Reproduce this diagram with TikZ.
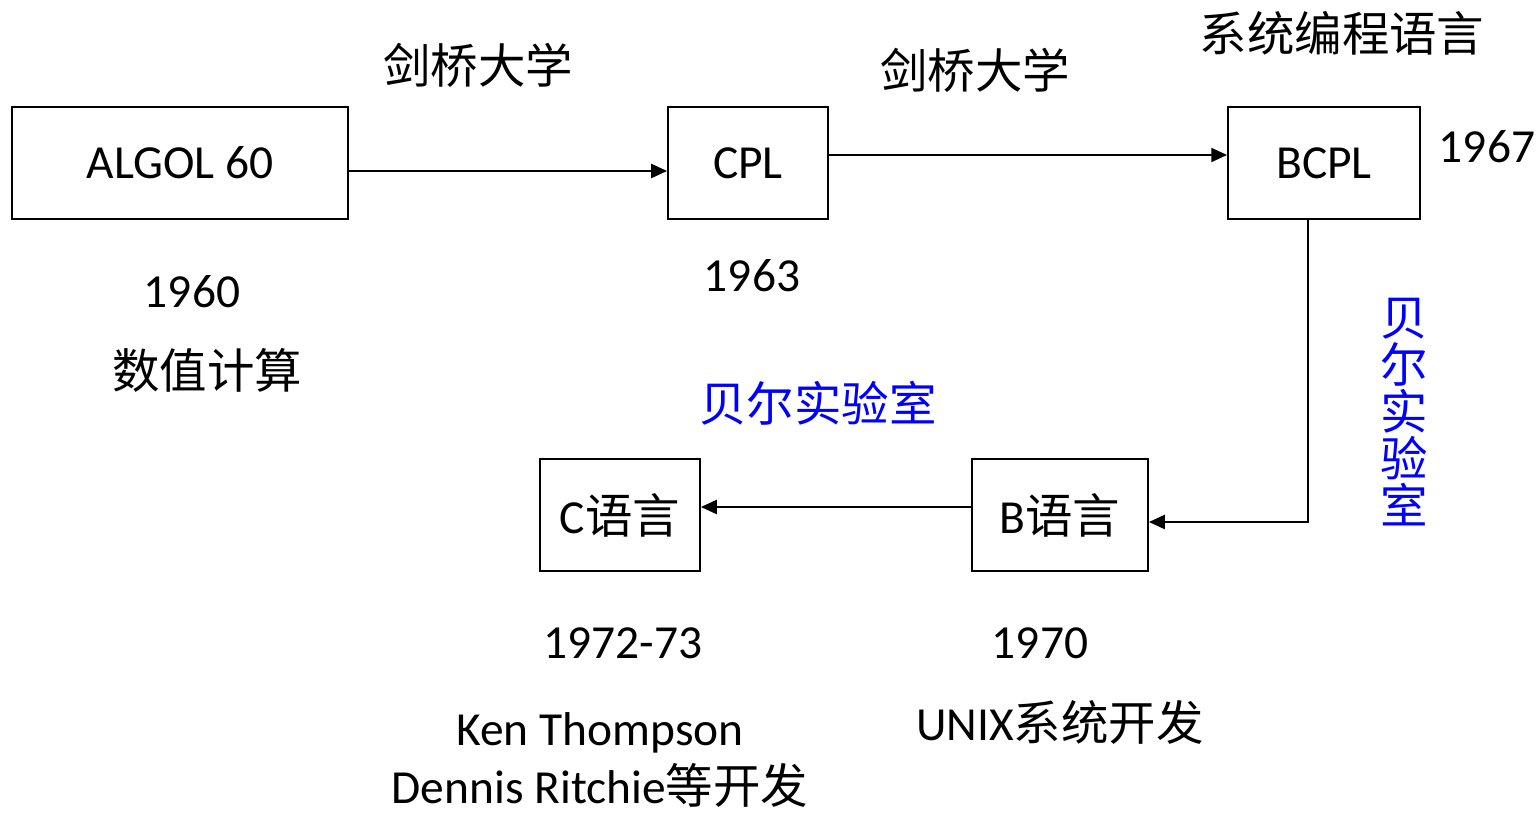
\documentclass[tikz,border=0pt]{standalone}
\usepackage{fontspec}
\setmainfont{Carlito}
\newfontfamily\cjk{Noto Sans CJK SC}
\usetikzlibrary{arrows.meta,positioning}

\newcommand{\zh}[1]{{\cjk #1}}
\definecolor{labblue}{RGB}{0,0,255}

\tikzset{
  langbox/.style={draw, line width=1.1pt, minimum height=2.24cm, inner sep=0pt},
  lab/.style={inner sep=0pt, font=\fontsize{27}{33}\selectfont},
  flow/.style={line width=1.1pt, -{Triangle[length=9pt,width=8pt]}}
}

\begin{document}
\begin{tikzpicture}[x=0.02cm, y=-0.02cm]
\useasboundingbox (0,0) rectangle (1540,813);

% boxes
\node[langbox, lab, minimum width=6.72cm] (algol) at (180,163) {ALGOL 60};
\node[langbox, lab, minimum width=3.2cm]  (cpl)   at (748,163) {CPL};
\node[langbox, lab, minimum width=3.84cm] (bcpl)  at (1324,163) {BCPL};
\node[langbox, lab, minimum width=3.52cm] (blang) at (1060,515) {B\zh{语言}};
\node[langbox, lab, minimum width=3.2cm]  (clang) at (620,515) {C\zh{语言}};

% connectors
\draw[flow] ([yshift=-0.16cm]algol.east) -- ([yshift=-0.16cm]cpl.west);
\draw[flow] ([yshift=0.16cm]cpl.east) -- ([yshift=0.16cm]bcpl.west);
\draw[flow] ([xshift=-0.32cm]bcpl.south) |- ([yshift=-0.14cm]blang.east);
\draw[flow] ([yshift=0.16cm]blang.west) -- ([yshift=0.16cm]clang.east);

% labels
\node[lab] (cam1) at (478,65) {\zh{剑桥大学}};
\node[lab] (cam2) at (975,70) {\zh{剑桥大学}};
\node[lab] (sys)  at (1342,33) {\zh{系统编程语言}};
\node[lab] (y67)  at (1487,147) {1967};
\node[lab] (y60)  at (192,292) {1960};
\node[lab] (num)  at (207,370) {\zh{数值计算}};
\node[lab] (y63)  at (752,276) {1963};
\node[lab, text=labblue] (bell1) at (818,403) {\zh{贝尔实验室}};
\node[lab, text=labblue, align=center, font=\fontsize{27}{26.8}\selectfont] (bell2) at (1404,412)
  {\zh{贝}\\\zh{尔}\\\zh{实}\\\zh{验}\\\zh{室}};
\node[lab] (y72)  at (623,643) {1972-73};
\node[lab] (y70)  at (1040,643) {1970};
\node[lab] (unix) at (1060,722) {UNIX\zh{系统开发}};
\node[lab, align=center] (dev) at (600,760) {Ken Thompson\\Dennis Ritchie\zh{等开发}};

\end{tikzpicture}
\end{document}
